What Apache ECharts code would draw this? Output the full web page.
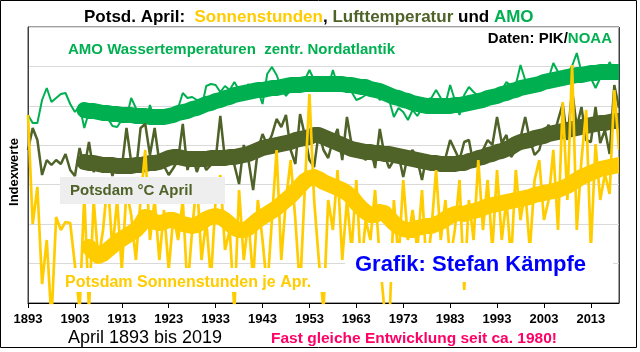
<!DOCTYPE html>
<html><head><meta charset="utf-8">
<script src="https://cdn.jsdelivr.net/npm/echarts@6/dist/echarts.min.js"></script>
<style>html,body{margin:0;padding:0;background:#fff}#c{width:640px;height:352px}</style>
</head><body><div id="c"></div>
<script>
// Index scale: 0 = x-axis, 276 = top of plot (7 gridline steps)
const years = [];
for (let y = 1893; y <= 2019; y++) years.push(String(y));
const yMax = 276;

// AMO (raw, April), 1893-2019
const amoRaw = [188,180,180,203,215,201,205,209,210,199,191,197,175,191,185,191,187,185,177,176,
183,185,205,195,181,179,198,183,180,183,191,185,195,210,205,206,203,195,217,219,
218,211,217,213,221,213,208,219,207,213,199,229,236,228,215,207,213,219,211,223,
233,223,217,223,215,233,218,223,223,211,203,205,208,211,211,203,207,203,186,195,
191,183,193,187,195,203,205,213,205,199,218,203,188,208,216,211,207,205,207,205,
203,213,221,217,218,238,223,219,217,215,221,225,240,231,227,229,237,250,231,223,
225,215,225,229,241,231,229];
// AMO smoothed, 1905-2019
const amoSmoothStart = 1905;
const amoSmooth = [193,192,192,191,190,190,189,189,188,188,188,187,187,187,186,186,186,186,187,188,
190,191,192,194,195,197,199,200,202,203,205,206,208,209,210,211,212,213,213,214,
215,215,216,217,218,218,218,219,219,219,219,219,219,219,219,219,218,218,217,216,
216,214,213,212,210,208,206,205,203,202,200,199,198,197,197,197,197,197,197,198,
198,199,200,201,202,203,205,206,207,209,210,212,213,215,216,217,218,219,221,222,
223,224,225,226,227,228,228,229,230,230,231,231,231,231,231];

// Potsdam April air temperature (raw), 1893-2019
const tempRaw = [153,175,163,128,143,138,143,139,149,133,127,155,135,161,131,143,133,145,127,143,
135,175,141,131,175,179,148,175,141,137,128,135,143,179,133,148,131,145,133,138,
143,187,143,145,138,119,158,143,113,153,169,158,168,184,176,188,153,139,189,168,
143,136,171,153,145,163,174,143,186,158,153,148,143,155,135,174,148,135,143,148,
126,148,153,143,123,148,141,138,143,145,163,153,143,161,163,138,143,153,163,158,
186,160,168,146,153,165,186,163,148,153,170,178,165,183,199,163,213,176,196,163,
161,196,160,173,149,218,195];
// Temperature smoothed, 1905-2019
const tempSmoothStart = 1905;
const tempSmooth = [141,140,140,139,138,138,138,137,137,137,137,138,138,139,140,140,141,143,145,146,
146,145,144,144,144,144,144,145,145,145,145,146,146,147,148,149,151,153,155,156,
157,158,159,160,161,163,164,165,166,168,168,166,164,162,160,158,156,154,153,152,
151,151,150,150,149,149,148,147,146,145,144,143,142,141,140,140,139,139,139,139,
140,140,142,143,145,146,148,149,151,152,154,156,159,161,162,163,165,166,167,169,
170,171,172,173,174,175,176,177,178,179,180,180,181,182,182];

// Potsdam April sunshine hours (raw), 1893-2019
const sunRaw = [188,79,116,19,63,-17,86,73,81,80,38,-7,108,-7,103,43,73,123,53,103,
33,113,88,43,103,153,63,103,43,93,33,88,63,103,13,73,123,43,83,23,
103,128,53,73,-7,113,43,83,23,103,63,13,83,153,43,103,143,83,13,113,
209,103,43,-7,103,73,133,43,103,53,123,33,83,63,113,43,-7,-27,103,43,
123,63,93,53,113,33,73,133,63,103,43,73,123,13,103,63,143,73,123,53,
133,63,103,43,133,83,113,53,123,143,83,103,153,73,201,103,238,73,143,193,
53,159,103,129,109,213,153];
// Sunshine smoothed, 1906-2019
const sunSmoothStart = 1906;
const sunSmooth = [56,51,47,49,53,57,61,64,67,70,73,78,86,85,81,80,81,83,83,81,
79,78,77,78,81,84,86,87,86,83,79,75,73,73,75,79,83,86,89,92,
95,99,103,107,112,117,122,125,126,124,121,119,117,115,113,110,106,100,95,91,
88,88,91,90,85,80,76,74,73,73,75,76,77,77,79,81,84,87,89,90,
89,91,92,93,95,97,98,99,100,101,102,103,104,105,106,108,109,110,111,112,
113,115,117,120,123,126,128,130,132,134,135,136,137,138];

function pad(start, arr) {
  const out = [];
  for (let y = 1893; y < start; y++) out.push('-');
  return out.concat(arr);
}

const C_SUN = '#FFCC00', C_TEMP = '#4F6228', C_AMO = '#00B050';
const FONT = 'Liberation Sans, Arial, sans-serif';
const chart = echarts.init(document.getElementById('c'), null, {renderer: 'canvas'});

chart.setOption({
  animation: false,
  backgroundColor: '#fff',
  title: {
    left: 79, top: 4,
    text: '{k|Potsd. April:  }{s|Sonnenstunden}{k|, }{t|Lufttemperatur}{k| und }{a|AMO}',
    textStyle: {
      rich: {
        k: {color: '#000', fontSize: 17, fontWeight: 'bold', fontFamily: FONT},
        s: {color: C_SUN, fontSize: 17, fontWeight: 'bold', fontFamily: FONT},
        t: {color: C_TEMP, fontSize: 17, fontWeight: 'bold', fontFamily: FONT},
        a: {color: C_AMO, fontSize: 17, fontWeight: 'bold', fontFamily: FONT}
      }
    }
  },
  grid: {left: 28, right: 21, top: 27, bottom: 49, show: true, borderColor: '#404040', borderWidth: 1, containLabel: false},
  xAxis: {
    type: 'category', data: years, boundaryGap: false,
    axisLine: {lineStyle: {color: '#000', width: 1}},
    axisTick: {show: true, interval: 9, length: 5, lineStyle: {color: '#000'}},
    axisLabel: {interval: 9, color: '#000', fontSize: 13, fontWeight: 'bold', fontFamily: FONT, margin: 10},
    splitLine: {show: false}
  },
  yAxis: {
    type: 'value', min: 0, max: yMax, interval: yMax / 7,
    axisLine: {show: true, lineStyle: {color: '#404040'}},
    axisTick: {show: false}, axisLabel: {show: false},
    splitLine: {show: true, lineStyle: {color: '#D9D9D9', width: 1}}
  },
  series: [
    {name: 'AMO', type: 'line', data: amoRaw, symbol: 'none', z: 2,
     lineStyle: {color: C_AMO, width: 2}},
    {name: 'AMO glatt', type: 'line', data: pad(amoSmoothStart, amoSmooth), symbol: 'none', z: 3,
     lineStyle: {color: C_AMO, width: 16, cap: 'round', join: 'round'}},
    {name: 'Temp', type: 'line', data: tempRaw, symbol: 'none', z: 4,
     lineStyle: {color: C_TEMP, width: 2.5}},
    {name: 'Temp glatt', type: 'line', data: pad(tempSmoothStart, tempSmooth), symbol: 'none', z: 5,
     lineStyle: {color: C_TEMP, width: 16, cap: 'round', join: 'round'}},
    {name: 'Sonne glatt', type: 'line', data: pad(sunSmoothStart, sunSmooth), symbol: 'none', z: 6,
     lineStyle: {color: C_SUN, width: 16, cap: 'round', join: 'round'}},
    {name: 'Sonne', type: 'line', data: sunRaw, symbol: 'none', z: 7,
     lineStyle: {color: C_SUN, width: 2.7}}
  ],
  graphic: [
    {type: 'rect', z: 99, shape: {x: 619.5, y: 20, width: 17, height: 283}, style: {fill: '#fff'}},
    {type: 'line', z: 100, shape: {x1: 619.5, y1: 27, x2: 619.5, y2: 303}, style: {stroke: '#404040', lineWidth: 1}},
    {type: 'rect', z: 100, shape: {x: 0.5, y: 0.5, width: 636, height: 347}, style: {fill: 'none', stroke: '#000', lineWidth: 1}},
    {type: 'text', z: 100, x: 14, y: 172, rotation: Math.PI / 2,
     style: {text: 'Indexwerte', fill: '#000', font: 'bold 13px ' + FONT, textAlign: 'center', textVerticalAlign: 'middle'}},
    {type: 'text', z: 100, x: 68, y: 50,
     style: {text: 'AMO Wassertemperaturen  zentr. Nordatlantik', fill: C_AMO, font: 'bold 15px ' + FONT, textVerticalAlign: 'middle'}},
    {type: 'text', z: 100, x: 612, y: 39,
     style: {text: '{k|Daten: PIK/}{g|NOAA}', textAlign: 'right', textVerticalAlign: 'middle',
       rich: {k: {fill: '#000', font: 'bold 15px ' + FONT}, g: {fill: C_AMO, font: 'bold 15px ' + FONT}}}},
    {type: 'rect', z: 100, shape: {x: 60, y: 177, width: 165, height: 27}, style: {fill: '#EEEEEE'}},
    {type: 'text', z: 101, x: 70, y: 191,
     style: {text: 'Potsdam °C April', fill: C_TEMP, font: 'bold 15px ' + FONT, textVerticalAlign: 'middle'}},
    {type: 'rect', z: 100, shape: {x: 62, y: 268, width: 285, height: 24}, style: {fill: '#fff'}},
    {type: 'text', z: 101, x: 65, y: 283,
     style: {text: 'Potsdam Sonnenstunden je Apr.', fill: C_SUN, font: 'bold 16px ' + FONT, textVerticalAlign: 'middle'}},
    {type: 'rect', z: 100, shape: {x: 345, y: 243, width: 268, height: 39}, style: {fill: '#fff'}},
    {type: 'text', z: 101, x: 355, y: 265,
     style: {text: 'Grafik: Stefan Kämpfe', fill: '#0000FF', font: 'bold 22px ' + FONT, textVerticalAlign: 'middle'}},
    {type: 'text', z: 100, x: 68, y: 338,
     style: {text: 'April 1893 bis 2019', fill: '#000', font: '18px ' + FONT, textVerticalAlign: 'middle'}},
    {type: 'text', z: 100, x: 271, y: 339,
     style: {text: 'Fast gleiche Entwicklung seit ca. 1980!', fill: '#FF0066', font: 'bold 15.5px ' + FONT, textVerticalAlign: 'middle'}}
  ]
});
</script>
</body></html>
